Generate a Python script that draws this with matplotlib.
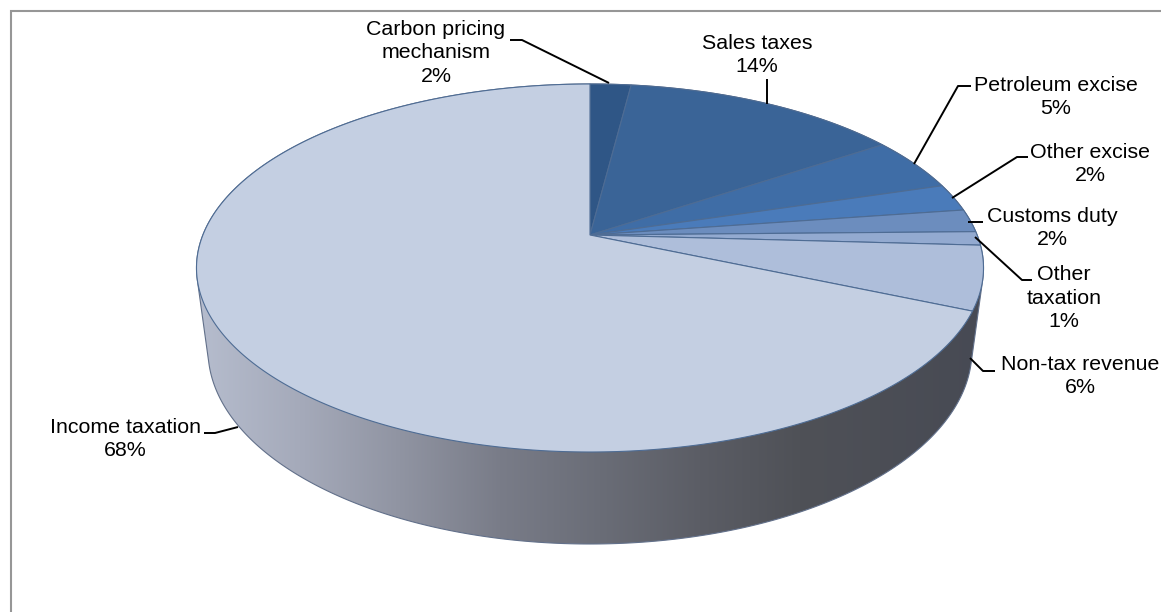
import numpy as np
import matplotlib
matplotlib.use("Agg")
import matplotlib.pyplot as plt
from matplotlib.patches import Polygon

plt.rcParams['font.family'] = ['Liberation Sans', 'DejaVu Sans']

# ---- data ----
categories = ["Carbon pricing\nmechanism", "Sales taxes", "Petroleum excise", "Other excise",
              "Customs duty", "Other\ntaxation", "Non-tax revenue", "Income taxation"]
values = [2.0, 13.6, 4.7, 2.4, 2.0, 1.2, 5.6, 68.5]
percent_labels = ["2%", "14%", "5%", "2%", "2%", "1%", "6%", "68%"]

# ---- styles ----
slice_colors = ["#2F5686", "#3A6497", "#3F6DA6", "#4A7BBA", "#6C8DBE", "#93AAD0", "#AEBEDA", "#C4CFE2"]
label_xy = [(436, 53), (757, 55), (1056, 97), (1090, 164), (1052, 228), (1064, 298), (1080, 376), (125, 439)]
leaders = [
    [(510, 40), (522, 40), (609, 83)],
    [(767, 79), (767, 104)],
    [(971, 86), (958, 86), (914, 164)],
    [(1028, 157), (1017, 157), (952, 198)],
    [(983, 222), (968, 222)],
    [(1032, 280), (1022, 280), (975, 237)],
    [(995, 371), (983, 371), (970, 358)],
    [(204, 433), (215, 433), (238, 427)],
]

W, H = 1161, 612
fig = plt.figure(figsize=(W / 100, H / 100), dpi=100)
ax = fig.add_axes([0, 0, 1, 1])
ax.set_xlim(0, W)
ax.set_ylim(H, 0)
ax.axis("off")

# chart frame
ax.plot([10.5, 10.5, W], [H, 10.5, 10.5], color="#969696", lw=1.5, solid_joinstyle="miter", zorder=1)

# pie geometry in pixel space
CX, TOP_CY, TOP_RX, TOP_RY = 590.0, 268.0, 393.5, 184.0
BOT_CY, BOT_RX, BOT_RY = 350.0, 382.0, 194.0
APEX_Y = 235.0
h = (TOP_CY - APEX_Y) / TOP_RY


def rim(pct):
    """Perspective position on the top rim of the pie for a cumulative percentage."""
    t = np.radians(np.asarray(pct, float) * 3.6)
    u, v = np.sin(t), np.cos(t)
    den = 1 + h * v
    return CX + TOP_RX * u * np.sqrt(1 - h * h) / den, TOP_CY - TOP_RY * (v + h) / den


def hull(pts):
    pts = sorted(set(map(tuple, pts)))
    def half(seq):
        out = []
        for p in seq:
            while len(out) > 1 and ((out[-1][0] - out[-2][0]) * (p[1] - out[-2][1])
                                    - (out[-1][1] - out[-2][1]) * (p[0] - out[-2][0])) <= 0:
                out.pop()
            out.append(p)
        return out[:-1]
    return half(pts) + half(pts[::-1])


# side wall with horizontal gradient
a = np.linspace(0, 2 * np.pi, 720, endpoint=False)
top_pts = np.c_[CX + TOP_RX * np.cos(a), TOP_CY + TOP_RY * np.sin(a)]
bot_pts = np.c_[CX + BOT_RX * np.cos(a), BOT_CY + BOT_RY * np.sin(a)]
outline = hull(np.round(np.vstack([top_pts, bot_pts]), 3))
stops_x = [196, 300, 400, 500, 600, 700, 800, 985]
stops_c = ["#B6BDCE", "#A5AABA", "#9094A2", "#797C88", "#6A6D77", "#5B5D65", "#4F5157", "#474A54"]
xs = np.arange(190, 990)
rgb = np.array([matplotlib.colors.to_rgb(c) for c in stops_c])
grad = np.stack([np.interp(xs, stops_x, rgb[:, i]) for i in range(3)], axis=-1)[None, :, :]
im = ax.imshow(grad, extent=(190, 990, 560, 80), aspect="auto", zorder=2, interpolation="bilinear")
ax.set_xlim(0, W)
ax.set_ylim(H, 0)
side = Polygon(outline, closed=True, facecolor="none", edgecolor="#62708A", lw=0.8, zorder=3)
ax.add_patch(side)
im.set_clip_path(side)

# top face slices
cum = np.concatenate([[0], np.cumsum(values)])
cum = cum / cum[-1] * 100
for i, col in enumerate(slice_colors):
    p = np.linspace(cum[i], cum[i + 1], max(int(values[i] * 8), 8))
    x, y = rim(p)
    verts = np.vstack([[CX, APEX_Y], np.c_[x, y]])
    ax.add_patch(Polygon(verts, closed=True, facecolor=col, edgecolor="#4E6C94", lw=0.8, zorder=4))

# leaders and labels
for pts in leaders:
    q = np.array(pts)
    ax.plot(q[:, 0], q[:, 1], color="black", lw=1.4, zorder=5, solid_capstyle="butt")
for name, pct, (x, y) in zip(categories, percent_labels, label_xy):
    ax.text(x, y, f"{name}\n{pct}", ha="center", va="center", fontsize=15.4,
            linespacing=1.3, color="black", zorder=6)

fig.savefig("out.png", dpi=100, facecolor="white")
